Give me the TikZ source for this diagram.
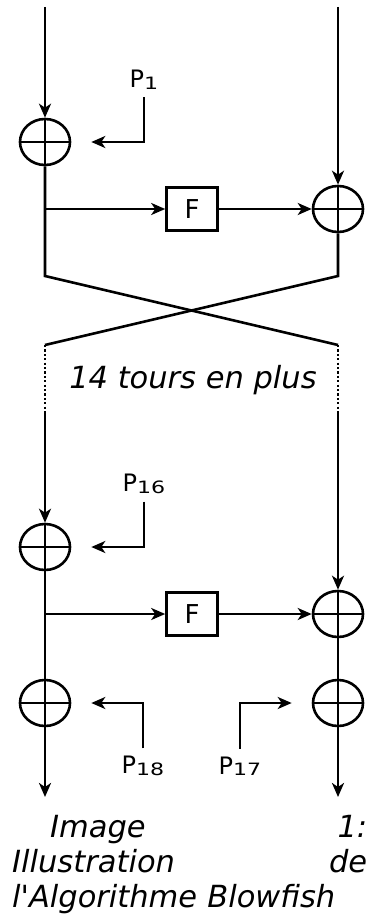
\documentclass[tikz,border=0pt]{standalone}
\usepackage{fontspec}
\setmainfont{DejaVu Sans}
\newfontfamily\plainfont{DejaVu Sans}
\usetikzlibrary{arrows.meta,shapes.geometric}
\tikzset{
  wire/.style      = {line width=2.6pt},
  flow/.style      = {line width=2.6pt, -{Stealth[length=14pt,width=12pt,inset=4pt]}},
  dotwire/.style   = {line width=2.6pt, dash pattern=on 2.2pt off 2.2pt},
  xorop/.style     = {ellipse, draw, line width=2.6pt, inner sep=0pt,
                      minimum width=50pt, minimum height=46pt,
                      path picture={\draw[line width=2.6pt]
                        (path picture bounding box.north) -- (path picture bounding box.south)
                        (path picture bounding box.west) -- (path picture bounding box.east);}},
  roundfn/.style   = {draw, line width=2.6pt, fill=white, inner sep=0pt,
                      minimum width=51pt, minimum height=43pt,
                      font=\fontsize{26}{30}\selectfont},
  keylabel/.style  = {inner sep=0pt, outer sep=8pt, font=\fontsize{24}{27}\selectfont},
  note/.style      = {inner sep=0pt, font=\plainfont\fontsize{30.5}{35}\selectfont\itshape},
}
\newcommand{\keyname}[1]{P\raisebox{-1.5pt}{\scalebox{1.3}[1]{\fontsize{17}{17}\selectfont #1}}}

\begin{document}
\begin{tikzpicture}[x=1pt,y=-1pt]
  \useasboundingbox (0,0) rectangle (369,917);
  \def\xl{45}
  \def\xr{338}
  % first round
  \coordinate (ina) at (\xl,7);
  \coordinate (inb) at (\xr,7);
  \node[xorop] (xa) at (\xl,142) {};
  \node[roundfn] (fa) at (192,209) {F};
  \node[xorop] (xb) at (\xr,209) {};
  \coordinate (ta) at (\xl,209);
  \node[keylabel] (p1) at (144,80) {\keyname{1}};

  \draw[flow] (ina) -- (xa);
  \draw[flow] (inb) -- (xb);
  \draw[flow] (ta) -- (fa);
  \draw[flow] (fa) -- (xb);
  \draw[flow,shorten >=20pt] (p1.south) |- (xa.east);

  % swap of the two halves
  \coordinate (ca) at (\xl,276);
  \coordinate (cb) at (\xr,276);
  \coordinate (da) at (\xl,345);
  \coordinate (db) at (\xr,345);
  \coordinate (ea) at (\xl,411);
  \coordinate (eb) at (\xr,411);
  \draw[wire] (xa) -- (ca) -- (db);
  \draw[wire] (xb) -- (cb) -- (da);
  \draw[dotwire] (da) -- (ea);
  \draw[dotwire] (db) -- (eb);
  \node[note] (more) at (193,380) {14 tours en plus};

  % last round
  \node[xorop] (xc) at (\xl,547) {};
  \node[roundfn] (fb) at (192,614) {F};
  \node[xorop] (xd) at (\xr,614) {};
  \coordinate (tb) at (\xl,614);
  \node[keylabel] (p16) at (144,484) {\keyname{16}};

  \draw[flow] (ea) -- (xc);
  \draw[flow] (eb) -- (xd);
  \draw[flow] (tb) -- (fb);
  \draw[flow] (fb) -- (xd);
  \draw[flow,shorten >=20pt] (p16.south) |- (xc.east);

  % output whitening
  \node[xorop] (xe) at (\xl,703) {};
  \node[xorop] (xf) at (\xr,703) {};
  \coordinate (oa) at (\xl,797);
  \coordinate (ob) at (\xr,797);
  \node[keylabel] (p18) at (143,766) {\keyname{18}};
  \node[keylabel] (p17) at (240,766) {\keyname{17}};

  \draw[wire] (xc) -- (xe);
  \draw[wire] (xd) -- (xf);
  \draw[flow] (xe) -- (oa);
  \draw[flow] (xf) -- (ob);
  \draw[flow,shorten >=20pt] (p18.north) |- (xe.east);
  \draw[flow,shorten >=20pt] (p17.north) |- (xf.west);

  \node[note,text width=355pt,align=left,anchor=north west] (caption) at (12,815)
    {\hspace*{38pt}Image\hfill 1:\\ Illustration\hfill de\\ l'Algorithme Blowfish};
\end{tikzpicture}
\end{document}
